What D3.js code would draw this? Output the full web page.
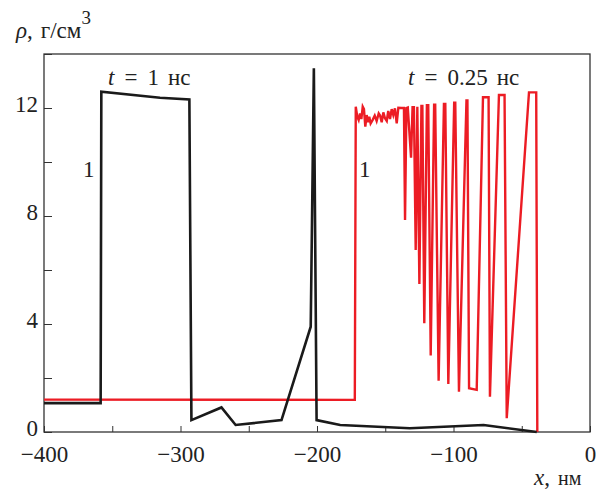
<!DOCTYPE html>
<html>
<head>
<meta charset="utf-8">
<script src="https://cdn.jsdelivr.net/npm/d3@7"></script>
<style>
  body { margin: 0; background: #fff; }
  svg text { font-family: "Liberation Serif", "DejaVu Serif", serif; fill: #222; }
</style>
</head>
<body>
<div class="chart"></div>
<script>

// t = 1 ns (black)
const blackX = [-400, -358.5, -358, -315, -293.5, -292, -270, -259.6, -226, -204.6, -202.3, -200.3, -183, -132, -78, -39];
const blackY = [1.07, 1.07, 12.6, 12.38, 12.32, 0.44, 0.91, 0.26, 0.44, 3.9, 13.47, 0.44, 0.26, 0.14, 0.26, 0];

// t = 0.25 ns (red)
const redX = [-400, -172.3, -171.6,
	-170.5, -169.5, -168.5, -167.5, -166.5, -165.6, -164.6, -163.6, -162.6, -161.7, -160.7,
	-159.2, -157.7, -156.3, -154.8, -153.8, -152.6, -151.4, -150.2, -148.9, -147.8, -146.5,
	-145.3, -144.1, -142.9, -141.6, -140.4, -138, -137,
	-136.3, -135.5, -134.5, -133.5, -131.1, -130, -129, -127.7, -126.5, -125, -123.5, -122.8,
	-121.4, -119.5, -118.5, -116.7, -114.2, -113.4, -110.9, -107, -106, -103.8, -99.5, -98.7,
	-96, -90.5, -89.8, -88.6, -83, -78.4, -74.3, -73.3, -66.7, -62.6, -61, -44.7, -39.4, -38.6];
const redY = [1.2, 1.19, 12.05,
	11.68, 11.56, 11.8, 11.59, 12.05, 11.96, 11.31, 11.74, 11.47, 11.68, 11.43,
	11.56, 11.72, 11.52, 11.8, 11.72, 11.47, 11.84, 11.62, 11.52, 11.89, 11.59,
	11.96, 11.74, 11.99, 11.43, 12.01, 12, 12,
	12, 7.85, 12, 12.02, 10.16, 12.03, 12.03, 6.74, 12.05, 5.48, 12.08, 12.08,
	4.03, 12.1, 12.1, 2.83, 12.12, 12.12, 1.9, 12.15, 12.15, 1.78, 12.2, 12.2,
	1.49, 12.28, 12.28, 1.62, 1.56, 12.4, 12.4, 1.31, 12.48, 12.48, 0.51, 12.58, 12.58, 0];

const xTicks = [-400, -350, -300, -250, -200, -150, -100, -50, 0];
const xLabels = [-400, -300, -200, -100, 0];
const yTicks = [0, 2, 4, 6, 8, 10, 12, 14];
const yLabels = [0, 4, 8, 12];

const width = 605;
const height = 491;
const margin = {top: 54, right: 15, bottom: 59, left: 44};

const svg = d3.select(".chart")
	.append("svg")
		.attr("width", width)
		.attr("height", height);

const x = d3.scaleLinear()
	.domain([-400, 0])
	.range([margin.left, width - margin.right]);

const y = d3.scaleLinear()
	.domain([0, 14])
	.range([height - margin.bottom, margin.top]);

// axes, ticks pointing inward
const xAxis = d3.axisBottom(x)
	.tickValues(xTicks)
	.tickSize(-6)
	.tickPadding(14)
	.tickFormat((d) => xLabels.includes(d) ? d3.format("")(d) : "");

const yAxis = d3.axisLeft(y)
	.tickValues(yTicks)
	.tickSize(-8)
	.tickPadding(6)
	.tickFormat((d) => yLabels.includes(d) ? d : "");

svg.append("g")
	.attr("transform", `translate(0, ${height - margin.bottom})`)
	.call(xAxis)
	.call((g) => g.select(".domain").remove())
	.call((g) => g.selectAll("line").attr("stroke", "#333"))
	.call((g) => g.selectAll("text").attr("font-size", 23).attr("fill", "#222"));

svg.append("g")
	.attr("transform", `translate(${margin.left}, 0)`)
	.call(yAxis)
	.call((g) => g.select(".domain").remove())
	.call((g) => g.selectAll("line").attr("stroke", "#333"))
	.call((g) => g.selectAll("text").attr("font-size", 23).attr("fill", "#222").attr("dy", "0.15em"));

// frame
svg.append("rect")
	.attr("x", margin.left)
	.attr("y", margin.top)
	.attr("width", width - margin.left - margin.right)
	.attr("height", height - margin.top - margin.bottom)
	.attr("fill", "none")
	.attr("stroke", "#333")
	.attr("stroke-width", 1.3);

const line = d3.line()
	.x((d) => x(d[0]))
	.y((d) => y(d[1]));

const black = blackX.map((v, i) => [v, blackY[i]]);
const red = redX.map((v, i) => [v, redY[i]]);

svg.append("path")
	.datum(red)
	.attr("d", line)
	.attr("fill", "none")
	.attr("stroke", "#ec1c24")
	.attr("stroke-width", 2.4)
	.attr("stroke-linejoin", "miter");

svg.append("path")
	.datum(black)
	.attr("d", line)
	.attr("fill", "none")
	.attr("stroke", "#1a1a1a")
	.attr("stroke-width", 2.6)
	.attr("stroke-linejoin", "miter");

// curve annotations
function label(px, py, parts, size = 23) {
	const t = svg.append("text")
		.attr("x", px)
		.attr("y", py)
		.attr("font-size", size);
	parts.forEach((p) => {
		const s = t.append("tspan").text(p.text);
		if (p.italic) s.attr("font-style", "italic");
		if (p.dx) s.attr("dx", p.dx);
		if (p.dy) s.attr("dy", p.dy);
		if (p.size) s.attr("font-size", p.size);
	});
	return t;
}

label(108, 85, [{text: "t", italic: true}, {text: "=", dx: 10}, {text: "1", dx: 10}, {text: "нс", dx: 9}]);
label(408, 85, [{text: "t", italic: true}, {text: "=", dx: 10}, {text: "0.25", dx: 10}, {text: "нс", dx: 9}]);
label(83, 177, [{text: "1"}]);
label(359, 177, [{text: "1"}]);

// axis titles
label(16, 38, [{text: "ρ", italic: true}, {text: ","}, {text: "г/см", dx: 8}, {text: "3", dy: -14, size: 19}]);
label(534, 485, [{text: "x", italic: true}, {text: ","}, {text: "нм", dx: 8, size: 20}]);

</script>
</body>
</html>
